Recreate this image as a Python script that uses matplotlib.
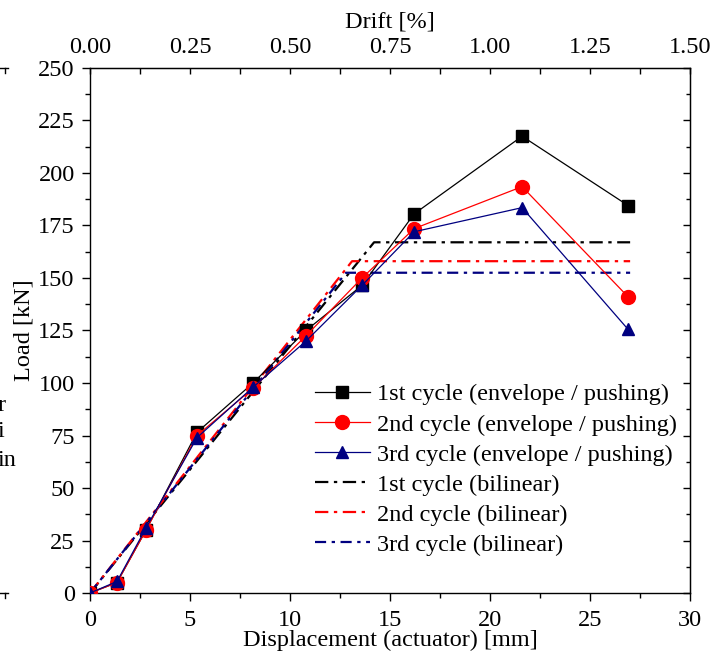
import matplotlib
matplotlib.use("Agg")
import matplotlib.pyplot as plt
from matplotlib.lines import Line2D
from matplotlib.ticker import MultipleLocator, FixedLocator

plt.rcParams["font.family"] = ["Liberation Serif", "DejaVu Serif"]

# Envelope curves (pushing direction), displacement in mm, load in kN
disp = [0.0, 1.35, 2.8, 5.35, 8.15, 10.8, 13.6, 16.2, 21.6, 26.9]
load_c1 = [0.0, 5.0, 30.0, 76.5, 100.0, 125.0, 146.5, 180.5, 217.5, 184.5]
load_c2 = [0.0, 5.0, 30.0, 75.0, 97.5, 122.5, 150.0, 173.5, 193.5, 141.0]
load_c3 = [0.0, 5.5, 31.0, 74.0, 98.0, 120.0, 146.5, 172.0, 183.5, 125.5]

# Bilinear idealisations: origin -> yield point -> plateau
bil_x_c1 = [0.0, 14.2, 27.0]
bil_y_c1 = [0.0, 167.0, 167.0]
bil_x_c2 = [0.0, 13.1, 27.0]
bil_y_c2 = [0.0, 158.0, 158.0]
bil_x_c3 = [0.0, 12.8, 27.0]
bil_y_c3 = [0.0, 152.5, 152.5]

drift_ticks = [0.0, 0.25, 0.5, 0.75, 1.0, 1.25, 1.5]

labels = [
    "1st cycle (envelope / pushing)",
    "2nd cycle (envelope / pushing)",
    "3rd cycle (envelope / pushing)",
    "1st cycle (bilinear)",
    "2nd cycle (bilinear)",
    "3rd cycle (bilinear)",
]

RED = "#ff0000"
NAVY = "#000080"
FS = 17.5

fig = plt.figure(figsize=(7.27, 6.60), dpi=100)
ax = fig.add_axes([0.1238, 0.1015, 0.8255, 0.7955])

ax.plot(disp, load_c1, color="black", lw=0.9, marker="s", ms=9, mfc="black",
        mec="black", label=labels[0], zorder=3)
ax.plot(disp, load_c2, color=RED, lw=0.9, marker="o", ms=10, mfc=RED,
        mec=RED, label=labels[1], zorder=4)
ax.plot(disp, load_c3, color=NAVY, lw=0.9, marker="^", ms=8, mfc=NAVY,
        mec=NAVY, label=labels[2], zorder=5)

ax.plot(bil_x_c1, bil_y_c1, color="black", lw=1.6, dashes=(6, 2.5, 1.5, 2.5),
        label=labels[3], zorder=2)
ax.plot(bil_x_c2, bil_y_c2, color=RED, lw=1.6, dashes=(6, 2.5, 1.5, 2.5),
        label=labels[4], zorder=2)
ax.plot(bil_x_c3, bil_y_c3, color=NAVY, lw=1.6, dashes=(5, 2.5, 1.5, 2.5),
        label=labels[5], zorder=2)

ax.set_xlim(0, 30)
ax.set_ylim(0, 250)
ax.xaxis.set_major_locator(MultipleLocator(5))
ax.xaxis.set_minor_locator(MultipleLocator(2.5))
ax.yaxis.set_major_locator(MultipleLocator(25))
ax.yaxis.set_minor_locator(MultipleLocator(12.5))
ax.tick_params(axis="both", which="major", direction="out", length=6,
               width=1, labelsize=FS)
ax.tick_params(axis="both", which="minor", direction="out", length=3.5,
               width=1)
ax.tick_params(axis="x", which="major", pad=6)
ax.tick_params(axis="y", which="major", pad=5)
ax.tick_params(top=False, right=False, which="both")
for sp in ax.spines.values():
    sp.set_linewidth(1.0)

ax.set_xlabel("Displacement (actuator) [mm]", fontsize=FS)
ax.xaxis.label.set_va("center")
ax.xaxis.set_label_coords(0.5, -0.0895)
ax.set_ylabel("Load [kN]", fontsize=FS)
ax.yaxis.label.set_va("center")
ax.yaxis.set_label_coords(-0.11, 0.5)

# Top axis: drift ratio
top = ax.secondary_xaxis("top", functions=(lambda x: x / 20.0,
                                           lambda d: d * 20.0))
top.xaxis.set_major_locator(FixedLocator(drift_ticks))
top.xaxis.set_minor_locator(MultipleLocator(0.125))
top.xaxis.set_major_formatter(plt.FormatStrFormatter("%.2f"))
top.tick_params(which="major", direction="in", length=4.5, width=1,
                labelsize=FS, pad=7)
top.tick_params(which="minor", direction="in", length=4.5, width=1)
top.set_xlabel("Drift [%]", fontsize=FS)
top.xaxis.label.set_va("center")
top.xaxis.set_label_coords(0.5, 1.0876, transform=ax.transAxes)

# Right axis: ticks only
right = ax.secondary_yaxis("right")
right.yaxis.set_major_locator(MultipleLocator(25))
right.yaxis.set_minor_locator(MultipleLocator(12.5))
right.tick_params(which="major", direction="in", length=5, width=1,
                  labelright=False)
right.tick_params(which="minor", direction="in", length=3, width=1)

leg = ax.legend(loc="upper left", bbox_to_anchor=(0.433, 0.419),
                bbox_transform=fig.transFigure, frameon=False, fontsize=FS,
                handlelength=2.26, handletextpad=0.29, labelspacing=0.33,
                borderaxespad=0, borderpad=0)

# Fragments of a neighbouring panel at the left border
for y, t in [(0.385, "r"), (0.346, "i"), (0.302, "in")]:
    fig.text(-0.004, y, t, fontsize=FS, ha="left", va="center")
W, H = 727.0, 660.0
for yp in (68, 593):
    fig.add_artist(Line2D([0 / W, 8 / W], [1 - yp / H, 1 - yp / H],
                          transform=fig.transFigure, color="black", lw=1))
    fig.add_artist(Line2D([5 / W, 5 / W], [1 - yp / H, 1 - (yp + 5) / H],
                          transform=fig.transFigure, color="black", lw=1))

fig.savefig("out.png", dpi=100)
